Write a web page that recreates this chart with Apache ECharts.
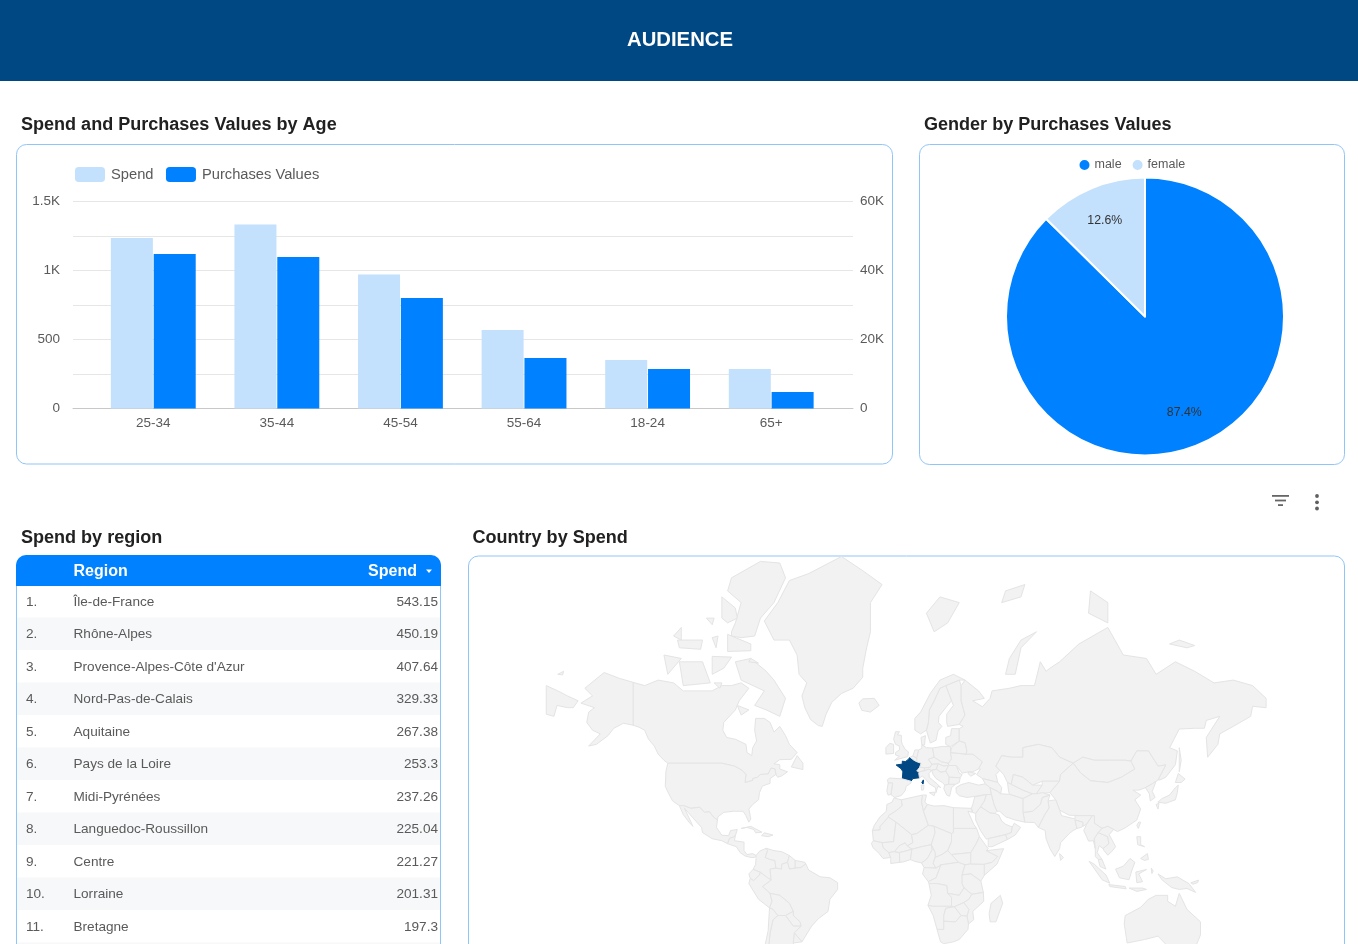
<!DOCTYPE html>
<html><head><meta charset="utf-8">
<script src="https://cdn.jsdelivr.net/npm/echarts@6/dist/echarts.min.js"></script>
<style>html,body{margin:0;padding:0;background:#fff;overflow:hidden}#c{width:1358px;height:944px}</style>
</head><body><div id="c"></div>
<script>
const ageCategories=['25-34','35-44','45-54','55-64','18-24','65+'];
const spendByAge=[1235,1333,971,569,351,286];
const purchasesByAge=[44780,43900,32000,14640,11450,4780];
const genderNames=['male','female'];
const genderValues=[87.4,12.6];
const regionNames=['Île-de-France','Rhône-Alpes',"Provence-Alpes-Côte d'Azur",'Nord-Pas-de-Calais','Aquitaine','Pays de la Loire','Midi-Pyrénées','Languedoc-Roussillon','Centre','Lorraine','Bretagne'];
const regionSpend=['543.15','450.19','407.64','329.33','267.38','253.3','237.26','225.04','221.27','201.31','197.3'];
const highlightedCountry='France';
// rough country outlines, longitude,latitude
const countryOutlines=[
['Canada','-141,69.6 -135,69 -128,70 -120,69.5 -115,68 -108,68 -100,68 -95,69 -90,69 -85,69.5 -81,68.5 -86,66 -88,64 -94,61 -94.5,59 -92.5,57 -88,56.5 -82.5,55 -82,52.5 -79.5,51.5 -79,54 -77,56 -78,59 -77.5,62 -73,62 -70,61 -68,58.5 -65,60 -62,57.5 -60,55 -56,52.5 -59,50.3 -65,50.2 -68,48.8 -65,48.5 -65,47 -61,46 -64,44.5 -66,44 -67,45 -67.5,47 -69.5,47.3 -71,45.2 -75,45 -76.5,44 -79,43.5 -79,42.8 -83,42 -82.5,45 -84.5,46.5 -88.5,48 -95,49 -123,49 -125,50 -128,52 -130,54.5 -133,56.5 -135,59 -138,59.8 -141,60.3'],
['Alaska','-141,69.6 -141,60.3 -146,60.8 -151,59.5 -154,57.5 -160,55 -164,54.5 -158,58 -162,59 -165,61 -164,63.5 -161,64.5 -168,65.5 -162,67 -166,68.5 -156,71.3 -148,70.3'],
['USA','-123,49 -95,49 -88.5,48 -84.5,46.5 -82.5,45 -83,42 -79,42.8 -79,43.5 -76.5,44 -75,45 -71,45.2 -69.5,47.3 -67.5,47 -67,45 -70,43.5 -70,41.7 -74,40.6 -75.5,38 -76,35 -79,33 -81,31 -80,26.5 -81,25 -82.5,28 -84,30 -89,30 -94,29.5 -97,27.5 -97.3,26 -99.5,27.5 -101.5,29.8 -104,29.5 -106.5,31.8 -111,31.3 -114.8,32.5 -117,32.5 -120.5,34.5 -122.5,37.5 -124.3,40.5 -124,46'],
['Mexico','-117,32.5 -114.8,32.5 -111,31.3 -106.5,31.8 -104,29.5 -101.5,29.8 -99.5,27.5 -97.3,26 -97.8,22.5 -95,18.7 -91.5,18.5 -90.5,21 -87,21.5 -88,18.5 -89,17.8 -91,17.2 -92,14.5 -95,16 -100,17 -105,20 -105.5,22.5 -109,26 -112.5,29.5 -114.5,31.5 -112,27 -110,23 -112,25 -115,28.5'],
['CentralAmerica','-92,14.5 -91,17.2 -89,17.8 -88,18.5 -88.5,16 -83.5,15.3 -83.5,11 -82,9 -79,9.5 -77.3,8.5 -78,7.5 -80,7.5 -83,8.3 -85.5,10 -87.5,13'],
['Cuba','-85,22 -80,23 -74.2,20.2 -77.5,19.9 -78.5,21.5 -82,22.5'],
['Hispaniola','-74.4,18.5 -73,19.9 -68.5,18.8 -71,18'],
['Greenland','-73,78.2 -66,80 -60,81.8 -50,82.3 -33,83.4 -22,82.5 -12,81.5 -18,80 -18,77 -20,75 -22,72 -22,70.5 -27,68.5 -33,67.5 -38,65.7 -41,63 -43,60 -45,60.2 -49,61.7 -52,64.5 -53.5,67 -51,69.5 -55,71 -56,74 -60,76 -68,76'],
['Baffin','-80,73.5 -72,71.5 -68,70 -62,66.5 -65,62.5 -72,64 -78,65 -73,68 -85,70 -88,73'],
['Victoria','-117,73 -105,73 -101,69.5 -115,69'],
['Banks','-125,74 -116,73.5 -123,71'],
['Ellesmere','-90,76.5 -85,76.3 -78,76.5 -75,78.5 -68,80 -62,82 -65,83 -75,83.1 -90,82 -92,81 -85,80 -88,78 -90,77'],
['Devon','-92,76.7 -80,75.5 -80,74.6 -92,74.5'],
['Axel','-95,80.5 -88,79.5 -87,78.5 -92,78 -95,78.5'],
['Melville','-118,76 -105,76 -106,74.8 -117,75'],
['Somerset','-100,73.8 -90,73.7 -94,72 -100,71'],
['PrincePatrick','-120,76.5 -116,77.5 -116,76'],
['Ringnes','-103,78.5 -99,78.5 -100,77.8'],
['Bathurst','-100,76.3 -97,76.5 -98,75'],
['KingWilliam','-99,69.5 -95,69.5 -96,68.5'],
['Bylot','-80,73.5 -76,72.8 -81,73'],
['Southampton','-87,65 -81,64 -85,62.8'],
['Newfoundland','-59,47.7 -53,46.8 -53,49 -56,51.5'],
['Iceland','-24,65.5 -22,66.4 -16,66.5 -13.5,65 -18,63.5 -22.5,63.9'],
['Colombia','-77.3,8.5 -75.5,10.7 -72,12.2 -71.3,11 -72.5,7.5 -70,6.5 -67.5,6 -67,2 -70,1.5 -69.5,-4.2 -72,-2.5 -75,-0.2 -78.8,1.4 -77.5,4 -77.3,7'],
['Venezuela','-72,12.2 -68,11 -64,10.5 -60,8.5 -61,5 -64,4 -64,1.5 -67,2 -67.5,6 -70,6.5 -72.5,7.5 -71.3,11'],
['Guyana','-60,8.5 -57,6 -57,2 -60,1.5 -61,5'],
['Suriname','-57,6 -52,5 -51.5,4.2 -54,2.3 -57,2'],
['Brazil','-51.5,4.2 -50,1 -44,-2.5 -39,-3 -35,-5.5 -35,-9 -39,-14 -40,-20 -45,-23.5 -48.5,-27 -53.5,-34 -57.5,-30 -54,-27 -54.5,-25 -58,-22 -58,-20 -60,-16 -65,-12 -70,-11 -74,-7.5 -69.5,-4.2 -70,1.5 -67,2 -64,1.5 -64,4 -61,5 -60,1.5 -57,2 -54,2.3'],
['Ecuador','-78.8,1.4 -75,-0.2 -75.5,-1.5 -78.5,-4.5 -80.3,-3.3 -81,-1'],
['Peru','-75,-0.2 -72,-2.5 -69.5,-4.2 -74,-7.5 -70,-11 -69,-15 -70.3,-18.3 -76,-14 -81,-6 -80.3,-3.3 -78.5,-4.5 -75.5,-1.5'],
['Bolivia','-70,-11 -65,-12 -60,-16 -58,-20 -62,-22 -66,-22 -68.5,-19 -70.3,-18.3 -69,-15'],
['Paraguay','-58,-20 -58,-22 -54.5,-25 -54,-27 -58,-27 -62,-22'],
['Uruguay','-57.5,-30 -53.5,-34 -58,-34.5'],
['Argentina','-66,-22 -62,-22 -58,-27 -54,-27 -57.5,-30 -58,-34.5 -57,-38 -62,-39 -65,-42 -65.5,-47 -69,-51 -68,-55 -72,-52 -71.5,-45 -71,-38 -70,-30 -68.5,-24'],
['Chile','-70.3,-18.3 -68.5,-19 -66,-22 -68.5,-24 -70,-30 -71,-38 -71.5,-45 -72,-52 -68,-55 -74,-52 -74,-43 -73,-37 -71,-29'],
['France','2.5,51 1.5,50.2 0,49.5 -1.5,49.7 -1.5,48.7 -4.7,48.4 -2,47 -1.2,46 -1.5,43.4 3,42.5 4,43.5 7.4,43.8 7,45.5 6,46.3 7.5,47.6 8.2,49 6,49.5 4.5,50|9.4,43 9.5,42 9.2,41.4 8.6,42'],
['Spain','-1.5,43.4 -8,43.7 -9.3,43 -8.8,41.8 -6.5,41.8 -7,39.5 -7.4,37.2 -5.5,36 -2,36.8 0,38.8 0.5,40.5 3,41.8 3,42.5'],
['Portugal','-8.8,41.8 -9.5,38.7 -8.9,37 -7.4,37.2 -7,39.5 -6.5,41.8'],
['UK','-5.5,50 1.3,51.2 1.7,52.7 0,53.5 -1.5,55 -2,56 -2,57.6 -4,57.7 -3,58.6 -5,58.6 -6,56.5 -5,55 -3,54.5 -3,53.3 -5,52.5 -5,51.7 -3,51.3'],
['Ireland','-6,52.2 -6,55 -8,55.3 -10,54 -10,52'],
['Belgium','2.5,51 4.5,50 6,49.5 6,50.7 4,51.4'],
['Netherlands','4,51.4 6,50.7 7,53.3 5,53.3'],
['Germany','6,50.7 6,49.5 8.2,49 7.5,47.6 10,47.4 13,47.6 13.8,48.7 12,50.3 15,51 14.2,53.9 11,54 8.6,54.9 8.6,53.8 7,53.3'],
['Switzerland','6,46.3 7.5,47.6 10,47.4 10,46.4 7.5,46'],
['Italy','7,45.5 7.5,46 10,46.4 12,47 13.7,46.5 12.3,45.4 12.5,44 16,41.8 18.5,40 17,40.5 16.5,39.5 16,38 15.7,40 12.5,41.5 10.3,43.5 9,44.4 7.4,43.8'],
['Sicily','12.5,38 15.6,38.2 15,36.7'],
['Sardinia','8.3,41 9.7,41 9.5,39.1 8.5,39'],
['Austria','10,47.4 13,47.6 13.8,48.7 17,48.8 16.2,46.9 13.7,46.5 12,47 10,46.4'],
['Czechia','12,50.3 15,51 18.8,49.5 22.5,49 22.5,48.2 20,48 17,48.8 13.8,48.7'],
['Poland','14.2,53.9 15,51 18.8,49.5 22.5,49 24,50.5 23.5,52.5 23.5,54.3 19.5,54.4'],
['Denmark','8.6,54.9 10,54.8 10.5,57.5 8.2,57'],
['Hungary','17,48.8 20,48 22.5,48.2 21,46.2 18.5,45.8 16.2,46.9'],
['Romania','22.5,48.2 26.5,48.2 28,45.5 29.5,45 28.5,43.8 22.8,44 21,46.2'],
['Balkans','13.7,46.5 16.2,46.9 18.5,45.8 21,46.2 22.8,44 22.5,41.3 20.5,41 19.3,42 16,43.5 14.5,45'],
['Bulgaria','22.8,44 28.5,43.8 28,42 26,41.3 22.5,41.3'],
['Greece','20.5,41 22.5,41.3 26,41.3 24,40 23.5,38 23,36.5 21.5,37 20,39.6'],
['Turkey','26.3,40 29,41.2 33,42 38,41 41.5,41.5 44,40 44.7,37.2 42,37.2 36.5,36.5 36,36.2 32,36 28,36.7 26.5,38'],
['Ukraine','24,50.5 22.5,49 22.5,48.2 26.5,48.2 29.5,45.5 33,46 35,46 38,47 40,49.5 35,52 31.5,52 23.5,52.5'],
['Crimea','33,46 36.5,45.4 34,44.4 32.5,45.4'],
['Belarus','23.5,52.5 31.5,52 32,53 31,55.5 28,56 24,54 23.5,54.3'],
['Baltics','21,55 23.5,54.3 24,54 28,56 28,59.4 24,59.4 23.5,57.5 21,57'],
['Finland','22,60 28,60.5 31,62.8 29,66 29,69 28,70 21,69 24,66 25,65 21.5,63 21.5,61'],
['Sweden','11,59 13,55.4 16,56.2 17,58.8 19,60 17.2,61 17.5,62.5 21,64.5 24,66 21,69 18,68.5 15,66 12.5,64 12,61'],
['Norway','5,59 8,58 11,59 12,61 12.5,64 15,66 18,68.5 21,69 28,70 31,70 25,71 18,70 13,67.5 8,63.5 5,62'],
['Svalbard','11,79 15,77 22,78 28,80 18,80.5'],
['NovayaZemlya','52,71 57,71 60,75 68,77 60,76 54,73.5'],
['FranzJosef','50,80 60,80.5 62,81.5 52,81'],
['Severnaya','95,79 105,78 105,80 96,81'],
['NewSiberia','137,75.5 146,75 150,75.3 142,76'],
['Wrangel','-180,71 -177,71.5 -177.5,70.9'],
['Russia','28,56 31,55.5 32,53 31.5,52 35,52 40,49.5 38,47 39,47 37,45 40,43.5 44,42.8 48,42 47,45 49,46.5 47,48 50,51.5 55,51 61,51 61,54 69,55 76,54 80,51 87,49 92,51 98,50 106,50 114,50 117,49.7 120,53 126,53 131,48 135,48.4 131,43 132,43 135,44 140,48.5 141,53 137,54 142,59.3 150,59.5 155,59.5 156,61.5 163,62.5 156,57 156.7,51 162,55 163,58 170,60 179,62.5 180,64.8 187,64.5 187,66.5 180,69 170,70 160,69.5 150,71.5 140,73 130,71 125,73.5 113,74 105,77.5 90,75.5 80,73 75,72 73,71.5 70,73 67,69 60,69 54,68.5 45,68 44,66.5 40,64.7 35,66 41,66.5 38,68 31,70 29,69 29,66 31,62.8 28,60.5 30,60 28,59.4'],
['Chukotka','-186,69 -180,68 -175,67 -169.5,66 -172,64.5 -175,64.5 -180.4,65 -182,62.5 -186,63'],
['Sakhalin','142,54 143,50 142,46 142,50'],
['Honshu','130.9,34 135,33.5 140,35 141,38 141.5,41 140,40 137,37 133,35.5'],
['Hokkaido','140,42 141.5,45.4 145,43.3 143,42'],
['Kyushu','130,33 131.5,33.5 131,31'],
['Kazakhstan','47,48 49,46.5 51,45 53,42 55,41.3 56,45 61,44 66,41 71,42.5 80,42.5 80.5,45 87,49 80,51 76,54 69,55 61,54 61,51 55,51 50,51.5'],
['Turkmenistan','53,42 55,41.3 61,39 66,37.5 61,35.5 54,37.3 53.5,39'],
['Uzbekistan','55,41.3 56,45 61,44 66,41 71,41 68,37.5 66,37.5 61,39'],
['Kyrgyzstan','71,41 71,42.5 80,42.5 75,38 68,37.5'],
['Mongolia','87,49 92,51 98,50 106,50 114,50 117,49.7 119,47 112,44 105,42 96,42.7 91,45.5'],
['China','80,42.5 80.5,45 87,49 91,45.5 96,42.7 105,42 112,44 119,47 117,49.7 120,53 126,53 131,48 135,48.4 131,43 128,41.5 124.5,40 121,39 118,39 122,37 119,35 122,31 120,26 114,22.3 110,20.5 108,21.5 105,23 102,22 98,24.5 98,28 92,28 85,28.2 80,30.5 78,35 75,38'],
['Korea','124.5,40 128,41.5 130,42.5 128,38.5 129.5,36 127,34.5 126.5,37.5'],
['Taiwan','121,25 122,25 120.8,22 120,23.5'],
['India','78,35 80,30.5 81,28 88,26.5 88,28 92,28 97,28 94,24 92,23 92,25 88,26 89,22 87,21 85,19.5 80.5,15 80,12 77.5,8 75,12 73,17 72.5,21 69,22.5 70,24.5 72,28 74.5,31.5 74,34.5'],
['Bangladesh','88,26 92,25 92,23 91,22.5 89,22'],
['Pakistan','61,29.5 62,25 67,24.8 69,22.5 70,24.5 72,28 74.5,31.5 74,34.5 75,37 71,36 70,33 66,30'],
['Afghanistan','61,35.5 66,37.5 68,37.5 71,38 75,37 71,36 70,33 66,30 61,29.5'],
['Iran','44.7,37.2 44,40 48,38.5 49.5,37.5 54,37.3 61,35.5 61,29.5 62,25 57,26 52,27.5 49,30 47.5,30 46,33 45,36'],
['Iraq','42,37.2 44.7,37.2 45,36 46,33 47.5,30 46.5,29 44,29.2 39,32 41,34.5'],
['Saudi','36.5,29 39,32 44,29.2 46.5,29 48.5,28.3 50,25.5 52,24 55.5,22.7 55,20 52,19 43,17 42,16.8 39,21 36.5,26'],
['Yemen','43,17 52,19 53,16.6 45,13 43,13'],
['Oman','55.5,22.7 56.5,24.5 59.8,22.5 57,18.8 53,16.6 52,19 55,20'],
['Syria','35,33 36,36.2 36.5,36.5 42,37.2 41,34.5 39,32 36.5,29 35,29.5 34.3,31.3'],
['Caucasus','40,43.5 44,42.8 48,42 50,40 49.5,37.5 48,38.5 44,40 41.5,41.5'],
['Morocco','-5.8,35.8 -2,35 -1.5,32.5 -5,30 -8.7,28 -8.7,27.3 -13,23 -13,21.3 -17,21 -16,23.5 -13,27.5 -9.8,30 -9.5,33 -6.8,34'],
['Algeria','-2,35 9,37 8.5,34 9.5,30 12,23.5 6,19.5 3.3,19 -4.8,25 -8.7,27.3 -8.7,28 -5,30 -1.5,32.5'],
['Tunisia','9,37 11,37 10.2,34 11.5,33 9.5,30 8.5,34'],
['Libya','11.5,33 15,32.3 20,32.5 25,31.6 25,20 24,19.5 15,23 12,23.5 9.5,30'],
['Egypt','25,31.6 34.3,31.3 34.8,29.5 32.5,30 35.5,24 37,22 25,22'],
['Mauritania','-17,21 -13,21.3 -13,23 -8.7,27.3 -4.8,25 -6,15.5 -12,15 -16.5,16'],
['Mali','-12,15 -6,15.5 -4.8,25 3.3,19 4,15 1,13.4 0,14.9 -3,13.5 -5.5,10.5 -8.5,10 -11.5,12.5'],
['Niger','3.3,19 6,19.5 12,23.5 15,23 15.5,20 13.5,14 8.5,13 3.5,11.7 1,13.4 4,15'],
['Chad','15,23 24,19.5 24,15.5 22,11 19,9 15.5,7.5 15.5,10 13.5,14 15.5,20'],
['Sudan','25,22 37,22 38.5,18 36.5,14 34,10 24,9 22,11 24,15.5 24,19.5 25,20'],
['SouthSudan','24,9 34,10 34,4.2 31,3.7 27.5,5'],
['Senegal','-16.5,16 -12,15 -11.5,12.5 -8.5,10 -7.5,7.5 -11.5,7 -13.5,9.5 -15,11 -16.7,12.5 -17.5,14.7'],
['Ivory','-8.5,10 -5.5,10.5 -3,10 -2.8,5 -7.5,4.4 -7.5,7.5'],
['Burkina','-5.5,10.5 -3,13.5 0,14.9 1,13.4 3.5,11.7 1,11 -3,10'],
['Ghana','-3,10 1,11 3.5,11.7 2.7,6.4 -1,5.2 -2.8,5'],
['Nigeria','3.5,11.7 8.5,13 13.5,14 14,11.5 11.5,7 8.5,4.7 5,5.5 2.7,6.4'],
['Cameroon','14,11.5 13.5,14 15.5,10 15.5,7.5 14.5,4.5 16,2 9.8,2.3 8.5,4.7 11.5,7'],
['CAR','15.5,7.5 19,9 22,11 24,9 27.5,5 18.5,3.7 16,2 14.5,4.5'],
['Gabon','9.8,2.3 16,2 18.5,3.7 16,-3 12,-5 9,-1'],
['DRC','18.5,3.7 27.5,5 31,3.7 29.5,-1.5 29.5,-6 30.5,-8.2 28,-12 22,-11 21.5,-7 16.5,-6 12.3,-6 12,-5 16,-3'],
['Kenya','31,3.7 34,4.2 41,4 41,-1.7 39.2,-4.7 34,-1 29.5,-1.5'],
['Ethiopia','34,10 36.5,14 38.5,18 43,12 42,11 48,8 45,5 41,4 34,4.2'],
['Somalia','42,11 51,12 47.5,4 41,-1.7 41,4 45,5 48,8'],
['Tanzania','29.5,-1.5 34,-1 39.2,-4.7 40.5,-10.5 34.5,-11.5 30.5,-8.2 29.5,-6'],
['Angola','12.3,-6 16.5,-6 21.5,-7 22,-11 24,-13 24,-17.5 14,-17.5 11.8,-17 13.5,-12'],
['Zambia','22,-11 28,-12 30.5,-8.2 34.5,-11.5 33,-14 30.3,-15.7 25.5,-17.7 24,-17.5 24,-13'],
['Mozambique','34.5,-11.5 40.5,-10.5 40.7,-15 35,-20 35.5,-24 32.8,-26 32,-22.3 33,-19 30.3,-15.7 33,-14'],
['Namibia','11.8,-17 14,-17.5 24,-17.5 25.5,-17.7 21,-18.5 20,-22 20,-28.5 16.5,-28.5 14.5,-22'],
['Botswana','20,-22 21,-18.5 25.5,-17.7 29,-22 26,-25 20,-24.7'],
['Zimbabwe','25.5,-17.7 30.3,-15.7 33,-19 32,-22.3 29,-22'],
['SouthAfrica','16.5,-28.5 20,-28.5 20,-24.7 26,-25 29,-22 32,-22.3 32.8,-26 32.5,-28.5 28,-33 25,-34 20,-34.8 18.3,-34'],
['Madagascar','49.3,-12 50.5,-16 47,-25 44,-25 43.5,-21 44.5,-16'],
['Myanmar','92.5,21 94,24 97,28 98,28 98,24.5 102,22 100,20 98,17 98.5,12 97.5,16 95,15.8 94,18'],
['Thailand','98,17 100,20 105,18 105.5,14.5 102.5,12 100.5,13.5 99.5,10 102,6.5 100,6.5 98.5,8 98.5,12'],
['Indochina','102,22 105,23 108,21.5 105.7,19 109,13 107,10.5 105,8.7 103,11 102.5,12 105.5,14.5 105,18 100,20'],
['Malaysia','100,6.5 102,6.5 104,1.5 101,2.8'],
['Sumatra','95.3,5.5 98,4 104,-1.5 106,-5.8 102,-4 98.5,1'],
['Java','105.5,-6.5 114,-7.5 114.5,-8.7 106,-7.5'],
['LesserSunda','116,-8.3 123,-8.3 125,-9 120,-10'],
['Halmahera','127.5,2 128.5,0.5 127.8,-0.8'],
['Borneo','109,1.5 113,3 116.5,7 119,5 117.5,1 116,-4 111,-3'],
['Sulawesi','119.5,0 125,1.3 121,-1 123,-5 120,-5.5'],
['NewGuinea','131,-1 135,-3.5 141,-2.5 147,-6 150.5,-10.5 146,-8.5 142,-9 138,-8 133,-4'],
['NewBritain','148,-5.6 152,-4.2 151.5,-5.5 149,-6.3'],
['Luzon','120,18 122,18 122,14 124,13 120.5,14'],
['Mindanao','122,7 125.5,9.5 126,6.5 124,6'],
['SriLanka','80,9.5 82,7.5 80.5,6'],
['Australia','114,-22 122,-18 126,-14 130,-12 136,-12 136,-15 140,-17.5 142,-11 146,-19 153,-25 153,-31 150,-37 146,-39 140,-38 135,-35 131,-31.5 124,-33 115,-34.5 113.5,-26']
];

const deg=Math.PI/180;
const mercY=lat=>Math.log(Math.tan(Math.PI/4+lat*deg/2))/deg;
const project=p=>[p[0],-mercY(p[1])];
const unproject=p=>[p[0],(2*Math.atan(Math.exp(-p[1]*deg))-Math.PI/2)/deg];
const parseRing=s=>s.split(' ').map(q=>q.split(',').map(Number));
const worldGeo={type:'FeatureCollection',features:countryOutlines.map(([name,str])=>({
  type:'Feature',properties:{name},
  geometry:{type:'MultiPolygon',coordinates:str.split('|').map(r=>{const a=parseRing(r);a.push(a[0]);return [a];})}
}))};
echarts.registerMap('world',worldGeo);

// map placement
const mapPrimeX=905.2,mapEquatorY=872,mapPxPerDeg=1.93;
let lonMin=1e9,lonMax=-1e9,yMin=1e9,yMax=-1e9;
countryOutlines.forEach(c=>c[1].split('|').forEach(r=>parseRing(r).forEach(p=>{const q=project(p);lonMin=Math.min(lonMin,q[0]);lonMax=Math.max(lonMax,q[0]);yMin=Math.min(yMin,q[1]);yMax=Math.max(yMax,q[1]);})));
const mapCenter=[mapPrimeX+(lonMin+lonMax)/2*mapPxPerDeg,mapEquatorY+(yMin+yMax)/2*mapPxPerDeg];
const mapSize=(lonMax-lonMin)*mapPxPerDeg;

const FONT='"Liberation Sans",Arial,sans-serif';
const BLUE='#0081ff',LIGHT='#c3e0fc',NAVY='#004884',CARD='#90c5f8',TXT='#5a5a5a';
const titleAt=(text,left,top)=>({text,left,top,padding:0,textStyle:{fontFamily:FONT,fontSize:18.05,fontWeight:'bold',color:'#212121'}});

// table and chrome
const g=[];
g.push({type:'rect',shape:{x:0,y:0,width:1358,height:81},style:{fill:NAVY}});
const card=(x,y,w,h)=>g.push({type:'rect',shape:{x:x+.5,y:y+.5,width:w,height:h,r:10},style:{fill:'none',stroke:CARD,lineWidth:1}});
card(16,144,876,319.5);card(919,144,425,320);card(468,555.5,876,420);card(16,555.5,424,420);
g.push({type:'rect',shape:{x:16,y:555,width:425,height:31,r:[10,10,0,0]},style:{fill:BLUE}});
const rowH=32.5,rowTop=585;
regionNames.forEach((name,i)=>{
  const cy=rowTop+16.8+i*rowH;
  if(i%2===1)g.push({type:'rect',shape:{x:17,y:rowTop+i*rowH,width:423,height:rowH},style:{fill:'#f7f8f9'}});
  const t=(text,x,align)=>g.push({type:'text',z:5,style:{text,x,y:cy,align,verticalAlign:'middle',font:'13.6px '+FONT,fill:TXT}});
  t((i+1)+'.',26,'left');t(name,73.5,'left');t(regionSpend[i],438,'right');
});
g.push({type:'rect',shape:{x:17,y:rowTop+11*rowH,width:423,height:rowH},style:{fill:'#f7f8f9'}});
const hdr=(text,x,align)=>g.push({type:'text',z:5,style:{text,x,y:571.5,align,verticalAlign:'middle',font:'bold 16px '+FONT,fill:'#fff'}});
hdr('Region',73.5,'left');hdr('Spend',417,'right');
g.push({type:'polygon',shape:{points:[[426,569.5],[432,569.5],[429,573]]},style:{fill:'#fff'}});
[[1272,17],[1275,11],[1278,5]].forEach((b,i)=>g.push({type:'rect',shape:{x:b[0],y:495+i*4.6,width:b[1],height:1.8},style:{fill:'#666'}}));
[496,502.3,508.5].forEach(y=>g.push({type:'circle',shape:{cx:1317,cy:y,r:1.9},style:{fill:'#5f5f5f'}}));

const chart=echarts.init(document.getElementById('c'),null,{renderer:'canvas',width:1358,height:944});
chart.setOption({
  animation:false,backgroundColor:'#fff',
  title:[
    {text:'AUDIENCE',left:680,top:30,padding:0,textAlign:'center',textStyle:{fontFamily:FONT,fontSize:20.3,fontWeight:'bold',color:'#fff'}},
    titleAt('Spend and Purchases Values by Age',21,116),
    titleAt('Gender by Purchases Values',924,116),
    titleAt('Spend by region',21,529),
    titleAt('Country by Spend',472.5,529)
  ],
  graphic:{elements:g},
  legend:[
    {left:75,top:167,itemWidth:30,itemHeight:15,itemGap:12.5,padding:0,data:['Spend','Purchases Values'],icon:'roundRect',selectedMode:false,
      textStyle:{fontFamily:FONT,fontSize:14.7,color:TXT,padding:[0,0,0,1]}},
    {left:1077.5,top:158,itemWidth:12,itemHeight:12,itemGap:9,padding:0,data:genderNames,icon:'circle',selectedMode:false,
      textStyle:{fontFamily:FONT,fontSize:12.5,color:TXT,padding:[0,0,0,-1]}}
  ],
  grid:[
    {left:73,right:1358-853,top:201.5,height:207},
    {left:91.5,right:1358-833,top:201.5,height:207}
  ],
  xAxis:[
    {type:'category',gridIndex:0,data:[''],axisTick:{show:false},axisLabel:{show:false},axisLine:{lineStyle:{color:'#c8c8c8',width:1}}},
    {type:'category',gridIndex:1,data:ageCategories,axisTick:{show:false},axisLine:{show:false},
      axisLabel:{fontFamily:FONT,fontSize:13.5,color:TXT,margin:8}}
  ],
  yAxis:[
    {type:'value',gridIndex:0,min:0,max:1500,interval:250,axisLine:{show:false},axisTick:{show:false},
      splitLine:{lineStyle:{color:'#e6e6e6',width:1}},
      axisLabel:{fontFamily:FONT,fontSize:13.5,color:TXT,margin:13,padding:[4,0,0,0],formatter:v=>v%500?'':(v>=1000?(v/1000)+'K':v)}},
    {type:'value',gridIndex:0,position:'right',min:0,max:60000,interval:20000,axisLine:{show:false},axisTick:{show:false},splitLine:{show:false},
      axisLabel:{fontFamily:FONT,fontSize:13.5,color:TXT,margin:7,padding:[4,0,0,0],formatter:v=>v?(v/1000)+'K':'0'}},
    {type:'value',gridIndex:1,min:0,max:1500,show:false},
    {type:'value',gridIndex:1,min:0,max:60000,show:false,position:'right'}
  ],
  geo:{map:'world',projection:{project,unproject},layoutCenter:mapCenter,layoutSize:mapSize,roam:false,silent:true,
    itemStyle:{areaColor:'#f2f2f2',borderColor:'#e4e4e4',borderWidth:1},
    emphasis:{disabled:true},select:{disabled:true},label:{show:false},
    regions:[{name:highlightedCountry,itemStyle:{areaColor:NAVY,borderColor:NAVY}}]},
  series:[
    {name:'Spend',type:'bar',xAxisIndex:1,yAxisIndex:2,data:spendByAge,barWidth:42,barGap:'2%',itemStyle:{color:LIGHT},silent:true},
    {name:'Purchases Values',type:'bar',xAxisIndex:1,yAxisIndex:3,data:purchasesByAge,barWidth:42,barGap:'2%',itemStyle:{color:BLUE},silent:true},
    {type:'pie',center:[1145,316.5],radius:[0,139],startAngle:90,clockwise:true,silent:true,label:{show:false},labelLine:{show:false},
      data:genderNames.map((name,i)=>({name,value:genderValues[i],itemStyle:{color:i?LIGHT:BLUE,borderColor:'#fff',borderWidth:2}}))},
    {type:'pie',center:[1145,316.5],radius:[69,139],startAngle:90,clockwise:true,silent:true,z:3,labelLine:{show:false},
      label:{show:true,position:'inside',formatter:p=>p.value.toFixed(1)+'%',fontFamily:FONT,fontSize:12.3,color:'#333'},
      labelLayout:p=>p.dataIndex?{dx:1,dy:3}:{dx:-2,dy:-3},
      itemStyle:{color:'transparent'},emphasis:{disabled:true},
      data:genderNames.map((name,i)=>({name,value:genderValues[i]}))}
  ]
});
</script></body></html>
